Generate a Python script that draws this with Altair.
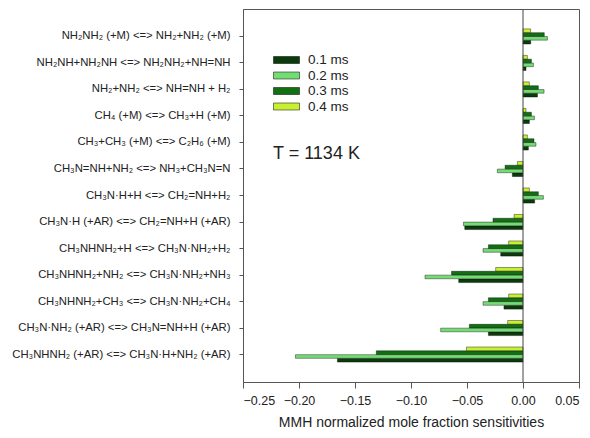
import altair as alt
import pandas as pd

reactions = [
    "NH₂NH₂ (+M) <=> NH₂+NH₂ (+M)",
    "NH₂NH+NH₂NH <=> NH₂NH₂+NH=NH",
    "NH₂+NH₂ <=> NH=NH + H₂",
    "CH₄ (+M) <=> CH₃+H (+M)",
    "CH₃+CH₃ (+M) <=> C₂H₆ (+M)",
    "CH₃N=NH+NH₂ <=> NH₃+CH₃N=N",
    "CH₃N·H+H <=> CH₂=NH+H₂",
    "CH₃N·H (+AR) <=> CH₂=NH+H (+AR)",
    "CH₃NHNH₂+H <=> CH₃N·NH₂+H₂",
    "CH₃NHNH₂+NH₂ <=> CH₃N·NH₂+NH₃",
    "CH₃NHNH₂+CH₃ <=> CH₃N·NH₂+CH₄",
    "CH₃N·NH₂ (+AR) <=> CH₃N=NH+H (+AR)",
    "CH₃NHNH₂ (+AR) <=> CH₃N·H+NH₂ (+AR)",
]

series = ["0.1 ms", "0.2 ms", "0.3 ms", "0.4 ms"]

s01 = [0.0069, 0.0027, 0.0129, 0.0057, 0.0048, -0.0095, 0.0104, -0.0520, -0.0199, -0.0574, -0.0170, -0.0309, -0.1657]
s02 = [0.0218, 0.0093, 0.0188, 0.0102, 0.0116, -0.0229, 0.0182, -0.0532, -0.0357, -0.0875, -0.0357, -0.0735, -0.2032]
s03 = [0.0190, 0.0075, 0.0137, 0.0075, 0.0098, -0.0160, 0.0137, -0.0268, -0.0309, -0.0638, -0.0309, -0.0479, -0.1310]
s04 = [0.0068, 0.0039, 0.0057, 0.0027, 0.0039, -0.0050, 0.0057, -0.0080, -0.0128, -0.0244, -0.0128, -0.0137, -0.0505]

colors = ["#0b3b0b", "#74dc74", "#127012", "#c8f032"]
x_ticks = [-0.25, -0.20, -0.15, -0.10, -0.05, 0.00, 0.05]

rows = []
for name, vals in zip(series, [s01, s02, s03, s04]):
    for r, v in zip(reactions, vals):
        rows.append({"reaction": r, "series": name, "value": v})
df = pd.DataFrame(rows)

FONT = "Liberation Sans"

bars = alt.Chart(df).mark_bar(stroke="black", strokeWidth=0.4).encode(
    x=alt.X("value:Q",
            scale=alt.Scale(domain=[-0.25, 0.05], nice=False, zero=False),
            axis=alt.Axis(values=x_ticks, format=".2f", title="MMH normalized mole fraction sensitivities",
                          grid=False, tickSize=6, labelPadding=6, labelFontSize=12.5,
                          titleFontSize=14, titlePadding=9, titleFontWeight="normal",
                          labelColor="#222", titleColor="#222", domainColor="#555", tickColor="#555")),
    y=alt.Y("reaction:N", sort=reactions,
            scale=alt.Scale(paddingInner=0.43, paddingOuter=0.75),
            axis=alt.Axis(title=None, tickSize=4, labelPadding=9, labelFontSize=11.3,
                          labelColor="#222", domainColor="#555", tickColor="#555", labelLimit=300)),
    yOffset=alt.YOffset("series:N", sort=series[::-1], scale=alt.Scale(paddingInner=0.05)),
    color=alt.Color("series:N",
                    scale=alt.Scale(domain=series, range=colors),
                    legend=alt.Legend(title=None, orient="none", legendX=30, legendY=44,
                                      symbolType="M-1,-0.54 L3,-0.54 L3,0.54 L-1,0.54 Z",
                                      symbolSize=169, symbolStrokeColor="black", symbolStrokeWidth=0.5,
                                      labelOffset=21, labelFontSize=13.5, labelColor="#222",
                                      rowPadding=1.5)),
)

zero = alt.Chart(pd.DataFrame({"z": [0.0]})).mark_rule(color="#444", strokeWidth=1).encode(x="z:Q")

label = alt.Chart(pd.DataFrame({"t": ["T = 1134 K"]})).mark_text(
    align="left", baseline="middle", fontSize=18, color="#222", font=FONT
).encode(x=alt.value(30), y=alt.value(145), text="t:N")

chart = alt.layer(bars, zero, label).properties(
    width=336, height=373,
    padding={"left": 235, "top": 1, "right": 2, "bottom": 53},
    autosize="none",
).configure(font=FONT).configure_view(stroke="#555", strokeWidth=1)

chart.save("out.html", embed_options={"renderer": "svg", "actions": False})
